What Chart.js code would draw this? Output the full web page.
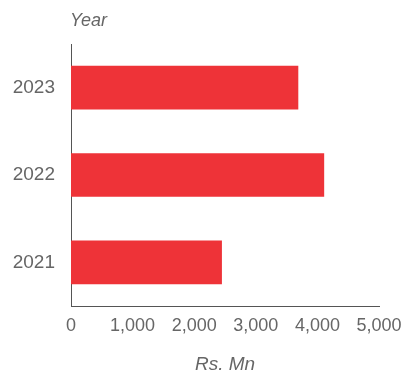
<!DOCTYPE html>
<html>
<head>
<meta charset="utf-8">
<script src="https://cdn.jsdelivr.net/npm/chart.js@4/dist/chart.umd.min.js"></script>
<style>
  html, body { margin: 0; padding: 0; background: #fff; }
  #wrap { width: 405px; height: 374px; }
</style>
</head>
<body>
<div id="wrap"><canvas id="grafica"></canvas></div>
<script>
// Datos
const anios = ['2023', '2022', '2021'];
const valores = [3690, 4110, 2450];
const ticksX = [0, 1000, 2000, 3000, 4000, 5000];

const rojo = '#ee3338';
const gris = '#666666';
const fuente = '"Liberation Sans", Arial, sans-serif';

// Título del eje Y ("Year") arriba del eje
const tituloAnio = {
  id: 'tituloAnio',
  afterDraw(chart) {
    const ctx = chart.ctx;
    ctx.save();
    ctx.font = 'italic 18px ' + fuente;
    ctx.fillStyle = gris;
    ctx.textBaseline = 'middle';
    ctx.textAlign = 'left';
    ctx.fillText('Year', chart.chartArea.left - 1, 21);
    ctx.restore();
  }
};

new Chart(document.getElementById('grafica'), {
  type: 'bar',
  data: {
    labels: anios,
    datasets: [{
      data: valores,
      backgroundColor: rojo,
      borderWidth: 0,
      barPercentage: 0.5,
      categoryPercentage: 1
    }]
  },
  options: {
    indexAxis: 'y',
    responsive: true,
    maintainAspectRatio: false,
    animation: false,
    layout: { padding: { top: 44, right: 26, left: 0, bottom: 0 } },
    plugins: { legend: { display: false }, tooltip: { enabled: false } },
    scales: {
      x: {
        min: 0,
        max: 5000,
        afterBuildTicks: (scale) => { scale.ticks = ticksX.map(v => ({ value: v })); },
        afterFit: (scale) => {
          scale.height = 68;
          scale.paddingLeft = 0;
          scale.paddingRight = 0;
        },
        grid: { display: false, drawTicks: false },
        border: { display: true, color: '#555', width: 1 },
        ticks: {
          padding: 9,
          color: gris,
          font: { family: fuente, size: 18 },
          maxRotation: 0,
          callback: (v) => v.toLocaleString('en-US')
        },
        title: {
          display: true,
          text: 'Rs. Mn',
          color: gris,
          font: { family: fuente, size: 19, style: 'italic', lineHeight: 1 },
          padding: { top: 0, bottom: 0 }
        }
      },
      y: {
        afterFit: (scale) => { scale.width = 71; },
        grid: { display: false, drawTicks: false },
        border: { display: true, color: '#555', width: 1 },
        ticks: {
          padding: 16,
          color: gris,
          font: { family: fuente, size: 19 }
        }
      }
    }
  },
  plugins: [tituloAnio]
});
</script>
</body>
</html>
